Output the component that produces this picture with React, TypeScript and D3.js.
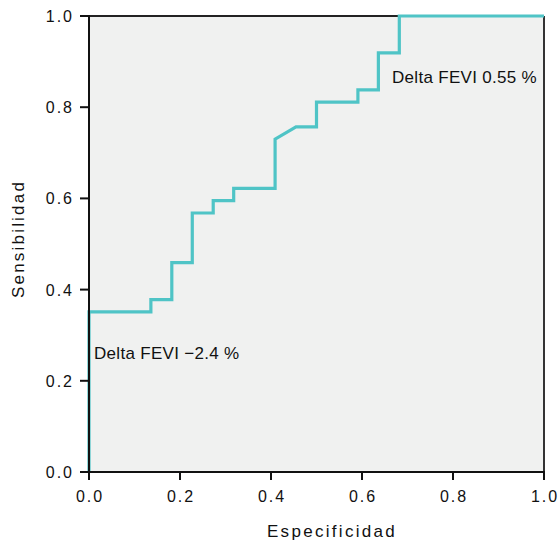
import React from "react";
import * as d3 from "d3";

const fpr: number[] = [0, 0, 0.136, 0.136, 0.182, 0.182, 0.227, 0.227, 0.273, 0.273, 0.318, 0.318, 0.409, 0.409, 0.455, 0.5, 0.5, 0.591, 0.591, 0.636, 0.636, 0.682, 0.682, 1.0];
const tpr: number[] = [0, 0.351, 0.351, 0.378, 0.378, 0.459, 0.459, 0.568, 0.568, 0.595, 0.595, 0.622, 0.622, 0.730, 0.757, 0.757, 0.811, 0.811, 0.838, 0.838, 0.919, 0.919, 1.0, 1.0];
const ticks: number[] = [0, 0.2, 0.4, 0.6, 0.8, 1.0];
const tickLabels: string[] = ["0.0", "0.2", "0.4", "0.6", "0.8", "1.0"];
const labelLow = "Delta FEVI \u22122.4 %";
const labelHigh = "Delta FEVI 0.55 %";
const xTitle = "Especificidad";
const yTitle = "Sensibilidad";

export default function App() {
  const W = 559, H = 543;
  const L = 89, R = 544, T = 16, B = 472;
  const x = d3.scaleLinear().domain([0, 1]).range([L, R]);
  const y = d3.scaleLinear().domain([0, 1]).range([B, T]);
  const pts: [number, number][] = fpr.map((f, i) => [f, tpr[i]]);
  const line = d3.line<[number, number]>().x(d => x(d[0])).y(d => y(d[1]));
  const font = "'Liberation Sans', Arial, sans-serif";
  return (
    <svg width={W} height={H} style={{ position: "absolute", left: 0, top: 0 }} fontFamily={font}>
      <rect x={L} y={T} width={R - L} height={B - T} fill="#f0f1f0" />
      <line x1={L} x2={R} y1={T} y2={T} stroke="#222" strokeWidth={2} />
      <line x1={R} x2={R} y1={T} y2={B} stroke="#333" strokeWidth={2} />
      <path d={line(pts) || ""} fill="none" stroke="#4fc4c6" strokeWidth={3.2} strokeLinejoin="miter" />
      <line x1={L} x2={R + 1} y1={B} y2={B} stroke="#111" strokeWidth={2} />
      <line x1={L} x2={L} y1={T - 1} y2={B + 1} stroke="#111" strokeWidth={2} />
      {ticks.map((t, i) => (
        <g key={"x" + i}>
          <line x1={x(t)} x2={x(t)} y1={B} y2={B + 8} stroke="#111" strokeWidth={2} />
          <text x={x(t) + 1} y={502} textAnchor="middle" fontSize={16} letterSpacing={2} fill="#111">{tickLabels[i]}</text>
        </g>
      ))}
      {ticks.map((t, i) => (
        <g key={"y" + i}>
          <line x1={L - 9} x2={L} y1={y(t)} y2={y(t)} stroke="#111" strokeWidth={2} />
          <text x={74} y={y(t) + 6} textAnchor="end" fontSize={16} letterSpacing={2} fill="#111">{tickLabels[i]}</text>
        </g>
      ))}
      <text x={332} y={537} textAnchor="middle" fontSize={17} letterSpacing={2.3} fill="#111">{xTitle}</text>
      <text transform={`translate(24,239) rotate(-90)`} textAnchor="middle" fontSize={17} letterSpacing={2.2} fill="#111">{yTitle}</text>
      <text x={94} y={359} fontSize={17} letterSpacing={0.3} fill="#111">{labelLow}</text>
      <text x={392} y={83} fontSize={17} letterSpacing={0.3} fill="#111">{labelHigh}</text>
    </svg>
  );
}
